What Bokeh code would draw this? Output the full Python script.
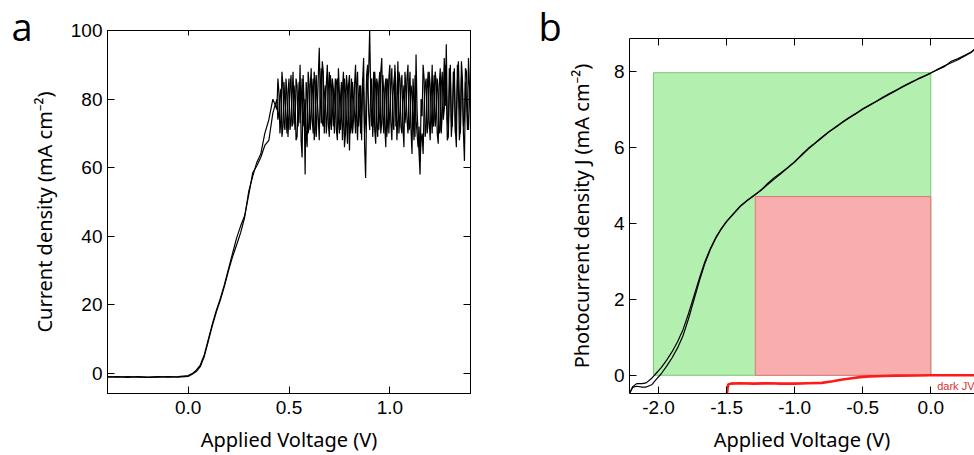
from bokeh.plotting import figure
from bokeh.models import LinearAxis, FixedTicker, Label, NumeralTickFormatter
from bokeh.layouts import row, column
from bokeh.embed import file_html
from bokeh.resources import INLINE

# ---------------- Panel a data ----------------
A_X_TICKS = [0.0, 0.5, 1.0]
A_Y_TICKS = [0, 20, 40, 60, 80, 100]
A_V_RISE = [-0.40, -0.35, -0.30, -0.25, -0.20, -0.15, -0.10, -0.05, 0.00, 0.02,
            0.04, 0.06, 0.08, 0.10, 0.12, 0.14, 0.16, 0.18, 0.20, 0.22,
            0.24, 0.26, 0.28, 0.30, 0.32, 0.34, 0.36, 0.38, 0.40, 0.42]
A_J1_RISE = [-1.0, -0.9, -1.1, -0.9, -1.0, -0.9, -1.0, -0.9, -0.6, 0.0,
             1.0, 2.5, 5.5, 10.0, 14.5, 18.5, 22.0, 26.0, 30.5, 35.0,
             39.5, 43.0, 46.0, 52.0, 58.5, 60.5, 63.0, 66.5, 68.0, 76.0]
A_J2_RISE = [-0.9, -1.0, -0.9, -1.0, -1.1, -1.0, -0.9, -1.0, -0.8, -0.2,
             0.6, 2.0, 5.0, 9.5, 14.0, 18.0, 21.5, 25.5, 30.0, 34.0,
             37.5, 41.0, 45.5, 53.0, 57.5, 61.5, 64.0, 70.0, 74.0, 80.0]
A_NOISE_START = 0.44
A_NOISE_STEP = 0.01
# readings at 0.44, 0.45, ... 1.40 V
A_J1_NOISE = [80, 76, 83, 72, 79, 70, 86, 74, 88, 71,
              84, 77, 68, 87, 58, 82, 72, 89, 70, 85,
              76, 95, 73, 88, 78, 90, 69, 84, 72, 86,
              68, 82, 74, 88, 70, 83, 65, 86, 74, 90,
              68, 84, 76, 92, 57, 85, 100, 72, 88, 67,
              84, 76, 92, 70, 86, 74, 90, 68, 85, 72,
              91, 75, 87, 66, 83, 70, 88, 64, 80, 93,
              70, 58, 75, 86, 72, 88, 68, 90, 74, 85,
              67, 89, 76, 92, 96, 71, 87, 74, 89, 66,
              84, 72, 86, 62, 80, 92, 76]
A_J2_NOISE = [77, 82, 74, 84, 71, 81, 76, 87, 73, 80,
              69, 85, 78, 72, 80, 66, 84, 75, 86, 71,
              80, 68, 89, 72, 84, 75, 88, 71, 83, 76,
              86, 70, 85, 73, 82, 67, 87, 72, 80, 70,
              88, 76, 68, 82, 74, 90, 71, 86, 75, 83,
              69, 88, 73, 82, 66, 85, 77, 89, 71, 83,
              74, 86, 70, 84, 76, 90, 72, 82, 68, 74,
              66, 62, 70, 78, 86, 73, 84, 70, 87, 75,
              82, 71, 88, 77, 84, 69, 90, 72, 85, 76,
              91, 70, 83, 74, 88, 71, 84]
# readings half-way between, at 0.445, 0.455, ... 1.395 V
A_J1_MID = [74, 81, 69, 85, 75, 82, 71, 80, 76, 86,
            72, 90, 63, 79, 85, 70, 83, 74, 88, 69,
            86, 80, 91, 70, 84, 73, 87, 77, 80, 71,
            89, 71, 83, 66, 87, 75, 80, 70, 84, 75,
            81, 70, 85, 66, 78, 88, 83, 78, 71, 86,
            71, 88, 75, 83, 69, 86, 73, 81, 88, 79,
            70, 84, 72, 88, 74, 82, 71, 86, 69, 77,
            64, 80, 90, 69, 83, 74, 80, 72, 88, 70,
            84, 70, 81, 78, 74, 89, 69, 84, 71, 90,
            68, 91, 70, 85, 71, 84]
A_J2_MID = [86, 70, 88, 73, 86, 69, 83, 72, 84, 68,
            78, 73, 86, 76, 70, 88, 71, 82, 68, 87,
            75, 84, 73, 81, 70, 83, 74, 86, 70, 85,
            74, 80, 68, 86, 74, 84, 70, 85, 76, 84,
            72, 84, 86, 70, 87, 76, 82, 69, 88, 72,
            84, 70, 87, 72, 86, 70, 84, 73, 90, 68,
            88, 72, 80, 73, 86, 71, 84, 76, 87, 70,
            72, 68, 64, 84, 70, 88, 76, 82, 72, 86,
            70, 84, 74, 90, 68, 82, 74, 88, 70, 85,
            80, 86, 72, 89, 76, 80]

# ---------------- Panel b data ----------------
B_X_TICKS = [-2.0, -1.5, -1.0, -0.5, 0.0]
B_Y_TICKS = [0, 2, 4, 6, 8]
B_V = [-2.21, -2.19, -2.16, -2.12, -2.09, -2.05, -2.02, -1.98, -1.94, -1.90,
       -1.86, -1.82, -1.78, -1.74, -1.70, -1.66, -1.62, -1.58, -1.54, -1.50,
       -1.45, -1.40, -1.35, -1.30, -1.25, -1.20, -1.15, -1.10, -1.05, -1.00,
       -0.95, -0.90, -0.85, -0.80, -0.75, -0.70, -0.65, -0.60, -0.55, -0.50,
       -0.45, -0.40, -0.35, -0.30, -0.25, -0.20, -0.15, -0.10, -0.05, 0.00,
       0.05, 0.10, 0.15, 0.20, 0.25, 0.30, 0.33]
B_J1 = [-0.46, -0.30, -0.22, -0.22, -0.20, -0.08, 0.04, 0.20, 0.40, 0.62,
        0.88, 1.20, 1.62, 2.08, 2.55, 2.98, 3.33, 3.62, 3.85, 4.05,
        4.25, 4.45, 4.60, 4.73, 4.86, 5.01, 5.16, 5.31, 5.46, 5.61,
        5.78, 5.95, 6.10, 6.25, 6.40, 6.52, 6.65, 6.77, 6.88, 7.00,
        7.10, 7.20, 7.30, 7.40, 7.50, 7.60, 7.69, 7.78, 7.86, 7.95,
        8.05, 8.14, 8.22, 8.30, 8.40, 8.50, 8.60]
B_J2 = [-0.46, -0.32, -0.29, -0.31, -0.31, -0.25, -0.12, 0.04, 0.24, 0.46,
        0.72, 1.04, 1.48, 1.98, 2.48, 2.93, 3.30, 3.60, 3.84, 4.04,
        4.24, 4.44, 4.59, 4.72, 4.86, 5.04, 5.20, 5.33, 5.47, 5.62,
        5.80, 5.97, 6.11, 6.26, 6.40, 6.53, 6.66, 6.78, 6.89, 7.01,
        7.11, 7.21, 7.32, 7.42, 7.51, 7.61, 7.70, 7.79, 7.87, 7.95,
        8.04, 8.12, 8.26, 8.33, 8.42, 8.51, 8.61]
DARK_V = [-1.497, -1.492, -1.487, -1.47, -1.40, -1.30, -1.20, -1.10, -1.00, -0.90,
          -0.80, -0.72, -0.66, -0.58, -0.52, -0.45, -0.35, -0.25, -0.10, 0.00,
          0.10, 0.20, 0.32]
DARK_J = [-0.49, -0.32, -0.24, -0.22, -0.21, -0.22, -0.21, -0.22, -0.22, -0.21,
          -0.20, -0.16, -0.12, -0.08, -0.05, -0.03, -0.02, -0.01, -0.005, 0.0,
          0.0, 0.0, 0.0]
GREEN_BOX = [-2.037, 0.0, 0.0, 7.96]   # left, right, bottom, top
RED_BOX = [-1.289, 0.0, 0.0, 4.70]


def merge_noise(main, mid):
    vs, js = [], []
    for i, j in enumerate(main):
        vs.append(round(A_NOISE_START + A_NOISE_STEP * i, 4))
        js.append(j)
        if i < len(mid):
            vs.append(round(A_NOISE_START + A_NOISE_STEP * (i + 0.5), 4))
            js.append(mid[i])
    return vs, js


n1v, n1j = merge_noise(A_J1_NOISE, A_J1_MID)
n2v, n2j = merge_noise(A_J2_NOISE, A_J2_MID)
A_V1 = A_V_RISE + n1v
A_J1 = A_J1_RISE + n1j
A_V2 = A_V_RISE + n2v
A_J2 = A_J2_RISE + n2j

TICK_FONT = "Liberation Sans"
LABEL_FONT = "Noto Sans"


def style_axis(ax, ticks, fmt=None, labels=True):
    ax.ticker = FixedTicker(ticks=ticks)
    ax.minor_tick_line_color = None
    ax.major_tick_in = 7
    ax.major_tick_out = 0
    ax.major_tick_line_color = "black"
    ax.major_tick_line_width = 1
    ax.axis_line_color = "black"
    ax.axis_line_width = 1
    if fmt is not None:
        ax.formatter = NumeralTickFormatter(format=fmt)
    if labels:
        ax.major_label_text_font = TICK_FONT
        ax.major_label_text_font_size = "19px"
        ax.major_label_text_color = "black"
    else:
        ax.major_label_overrides = {t: "" for t in ticks}
        ax.major_label_standoff = 0


def style_label(ax, text):
    ax.axis_label = text
    ax.axis_label_text_font = LABEL_FONT
    ax.axis_label_text_font_size = "20px"
    ax.axis_label_text_font_style = "normal"
    ax.axis_label_text_color = "black"


def panel_letter(p, text, offset, standoff):
    p.title.text = text
    p.title.align = "left"
    p.title.offset = offset
    p.title.vertical_align = "bottom"
    p.title.standoff = standoff
    p.title.text_font = "Open Sans"
    p.title.text_font_size = "38px"
    p.title.text_font_style = "normal"
    p.title.text_color = "black"
    p.title.text_line_height = 1.0


# ---------------- Panel a ----------------
pa = figure(width=490, height=455, x_range=(-0.40, 1.40), y_range=(-5.8, 100),
            output_backend="svg", toolbar_location=None,
            min_border_left=107, min_border_right=20, min_border_top=30, min_border_bottom=61)
pa.grid.visible = False
pa.outline_line_color = "black"
pa.outline_line_alpha = 1
pa.outline_line_width = 1

style_axis(pa.xaxis[0], A_X_TICKS, "0.0")
pa.xaxis[0].major_label_standoff = 7
style_label(pa.xaxis[0], "Applied Voltage (V)")
pa.xaxis[0].axis_label_standoff = 9
pa.xaxis[0].axis_label_text_line_height = 0.9
style_axis(pa.yaxis[0], A_Y_TICKS, "0")
pa.yaxis[0].major_label_standoff = 5
style_label(pa.yaxis[0], "Current density (mA cm⁻²)")
pa.yaxis[0].axis_label_standoff = 10

ra = LinearAxis()
style_axis(ra, A_Y_TICKS, labels=False)
pa.add_layout(ra, "right")
ta = LinearAxis()
style_axis(ta, A_X_TICKS, labels=False)
ta.major_tick_in = 5
pa.add_layout(ta, "above")

pa.line(A_V2, A_J2, line_color="black", line_width=1.2)
pa.line(A_V1, A_J1, line_color="black", line_width=1.2)

panel_letter(pa, "a", -96, -43)

# ---------------- Panel b ----------------
pb = figure(width=484, height=455, x_range=(-2.213, 0.321), y_range=(-0.48, 8.86),
            output_backend="svg", toolbar_location=None,
            min_border_left=139, min_border_right=0, min_border_top=38, min_border_bottom=62)
pb.grid.visible = False
pb.outline_line_color = None

style_axis(pb.xaxis[0], B_X_TICKS, "0.0")
pb.xaxis[0].major_label_standoff = 7
style_label(pb.xaxis[0], "Applied Voltage (V)")
pb.xaxis[0].axis_label_standoff = 9
pb.xaxis[0].axis_label_text_line_height = 0.9
style_axis(pb.yaxis[0], B_Y_TICKS, "0")
pb.yaxis[0].major_label_standoff = 5
style_label(pb.yaxis[0], "Photocurrent density J (mA cm⁻²)")
pb.yaxis[0].axis_label_standoff = 16

tb = LinearAxis()
style_axis(tb, B_X_TICKS, labels=False)
pb.add_layout(tb, "above")

pb.quad(left=[GREEN_BOX[0]], right=[GREEN_BOX[1]], bottom=[GREEN_BOX[2]], top=[GREEN_BOX[3]],
        fill_color="#b3efae", fill_alpha=1, line_color="#74c874", line_width=1)
pb.quad(left=[RED_BOX[0]], right=[RED_BOX[1]], bottom=[RED_BOX[2]], top=[RED_BOX[3]],
        fill_color="#f9aeae", fill_alpha=1, line_color="#de7676", line_width=1)

pb.line(B_V, B_J2, line_color="black", line_width=1.2)
pb.line(B_V, B_J1, line_color="black", line_width=1.2)
pb.line(DARK_V, DARK_J, line_color="#ff1a1a", line_width=2.6)

pb.add_layout(Label(x=0.047, y=-0.27, text="dark JV", text_align="left", text_baseline="middle",
                    text_font=TICK_FONT, text_font_size="11px", text_color="#d93035"))

panel_letter(pb, "b", -91, -27)

layout = row(pa, column(pb))
open("out.html", "w").write(file_html(layout, INLINE))
